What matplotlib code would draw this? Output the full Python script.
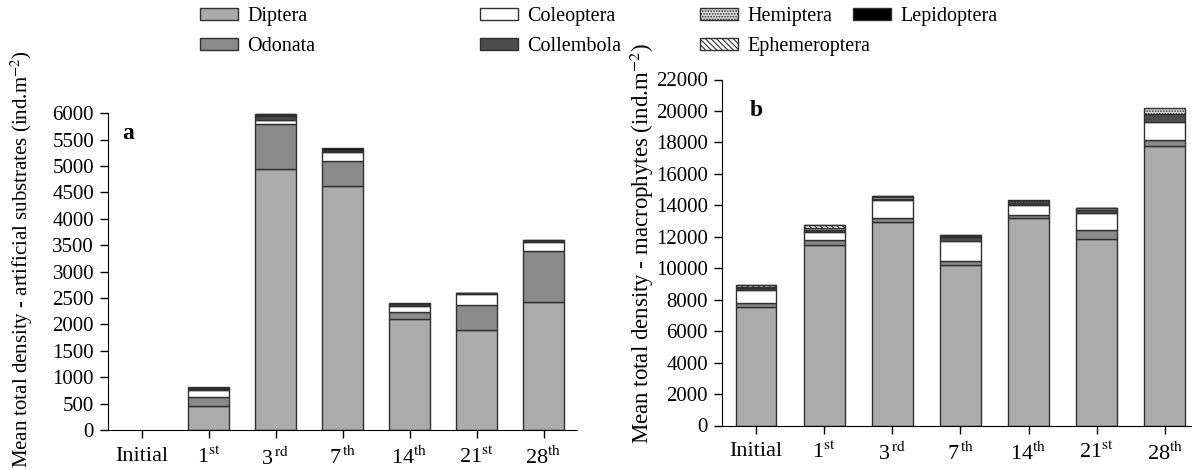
import numpy as np
import matplotlib
matplotlib.use("Agg")
import matplotlib.pyplot as plt
from matplotlib.patches import Patch

plt.rcParams['font.family'] = ['Liberation Serif', 'DejaVu Serif']
plt.rcParams['mathtext.fontset'] = 'stix'

# %% data
days = ["Initial", "1$^{\\mathrm{st}}$", "3$^{\\mathrm{\\,rd}}$", "7$^{\\mathrm{\\,th}}$",
        "14$^{\\mathrm{th}}$", "21$^{\\mathrm{st}}$", "28$^{\\mathrm{th}}$"]
taxa = ["Diptera", "Odonata", "Coleoptera", "Collembola",
        "Hemiptera", "Ephemeroptera", "Lepidoptera"]

# artificial substrates (panel a)
a_diptera = [0, 450, 4950, 4620, 2100, 1900, 2420]
a_odonata = [0, 175, 850, 480, 140, 470, 965]
a_coleoptera = [0, 130, 80, 160, 110, 210, 170]
a_collembola = [0, 25, 60, 35, 30, 10, 25]
a_hemiptera = [0, 10, 30, 10, 10, 5, 10]
a_ephemeroptera = [0, 5, 10, 5, 5, 0, 5]
a_lepidoptera = [0, 20, 10, 25, 10, 5, 10]

# macrophytes (panel b)
b_diptera = [7520, 11500, 12940, 10190, 13170, 11880, 17780]
b_odonata = [250, 270, 270, 270, 190, 570, 380]
b_coleoptera = [850, 530, 1100, 1270, 640, 1060, 1160]
b_collembola = [100, 150, 100, 250, 150, 200, 490]
b_hemiptera = [80, 100, 150, 100, 130, 100, 360]
b_ephemeroptera = [120, 200, 20, 30, 20, 30, 0]
b_lepidoptera = [20, 20, 10, 20, 10, 10, 0]

# %% styles
faces = ["#ababab", "#8a8a8a", "white", "#4d4d4d", "#d9d9d9", "white", "black"]
hatches = [None, None, None, None, "......", "\\\\\\\\\\\\", None]
edge = "#303030"
plt.rcParams['hatch.linewidth'] = 0.8
plt.rcParams['hatch.color'] = '#555555'


def stack(ax, series):
    x = np.arange(len(days))
    bottom = np.zeros(len(days))
    for vals, fc, ht, name in zip(series, faces, hatches, taxa):
        vals = np.array(vals, dtype=float)
        lw = np.where(vals > 0, 1.0, 0.0)  # no outline for empty segments
        ax.bar(x, vals, width=0.6, bottom=bottom, color=fc, hatch=ht,
               edgecolor=edge, linewidth=lw, label=name)
        bottom += vals
    ax.set_xticks(x)
    ax.set_xticklabels(days)
    ax.spines['top'].set_visible(False)
    ax.spines['right'].set_visible(False)
    ax.tick_params(direction='out', length=6, width=1, labelsize=15, pad=4)
    ax.tick_params(axis='x', labelsize=16, pad=6)


fig = plt.figure(figsize=(11.92, 4.70), dpi=100)

axa = fig.add_axes([108 / 1192, 1 - 430 / 470, (577 - 108) / 1192, (430 - 113.3) / 470])
stack(axa, [a_diptera, a_odonata, a_coleoptera, a_collembola,
            a_hemiptera, a_ephemeroptera, a_lepidoptera])
axa.set_xlim(-0.5, 6.5)
axa.set_ylim(0, 6000)
axa.set_yticks(np.arange(0, 6001, 500))
axa.text(0.03, 0.97, "a", transform=axa.transAxes, fontsize=17, fontweight="bold",
         va="top", ha="left")

axb = fig.add_axes([722 / 1192, 1 - 425.5 / 470, (1192 - 722) / 1192, (425.5 - 79.5) / 470])
stack(axb, [b_diptera, b_odonata, b_coleoptera, b_collembola,
            b_hemiptera, b_ephemeroptera, b_lepidoptera])
axb.set_xlim(-0.5, 6.4)
axb.set_ylim(0, 22000)
axb.set_yticks(np.arange(0, 22001, 2000))
axb.text(0.06, 0.94, "b", transform=axb.transAxes, fontsize=17, fontweight="bold",
         va="top", ha="left")

fig.text(22 / 1192, 1 - 259 / 470, "Mean total density - artificial substrates (ind.m$^{-2}$)",
         rotation=90, ha="center", va="center", fontsize=15)
fig.text(642 / 1192, 1 - 243 / 470, "Mean total density - macrophytes (ind.m$^{-2}$)",
         rotation=90, ha="center", va="center", fontsize=16.5)

# legend: one block per column, placed like the original
proxies = [Patch(facecolor=fc, hatch=ht, edgecolor=edge, linewidth=1.0)
           for fc, ht in zip(faces, hatches)]
col_x = [200, 480, 700, 853]
groups = [[0, 1], [2, 3], [4, 5], [6]]
for cx, idx in zip(col_x, groups):
    fig.legend(handles=[proxies[i] for i in idx], labels=[taxa[i] for i in idx],
               loc="upper left", bbox_to_anchor=(cx / 1192, 1 - 7 / 470),
               frameon=False, fontsize=14.5, handlelength=1.9, handleheight=0.6,
               handletextpad=0.45, labelspacing=0.55, borderpad=0, borderaxespad=0)

fig.savefig("out.png", dpi=100)
